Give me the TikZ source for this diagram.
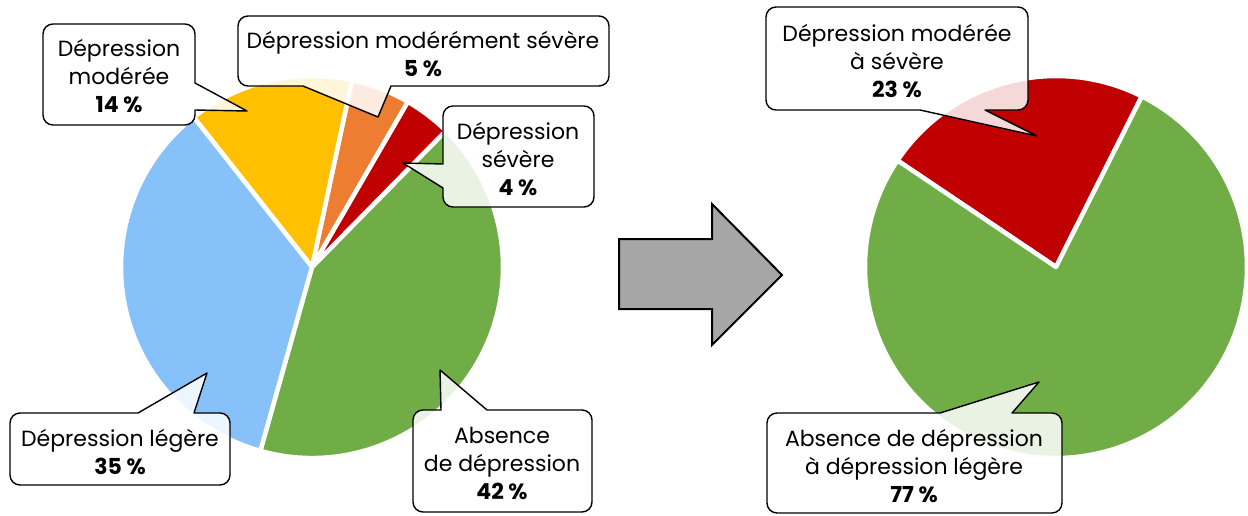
\documentclass[tikz,border=0pt]{standalone}
\usepackage{fontspec}
\setmainfont{Poppins}
\definecolor{pgreen}{HTML}{70AD47}
\definecolor{pred}{HTML}{C00000}
\definecolor{porange}{HTML}{ED7D31}
\definecolor{pyellow}{HTML}{FFC000}
\definecolor{pblue}{HTML}{87C1FA}
\definecolor{arrowgray}{HTML}{A6A6A6}
\newcommand\pieslice[4]{\path[slice, fill=#4] (#1) -- ++({-(#2)}:191) arc[start angle={-(#2)}, end angle={-(#3)}, radius=191] -- cycle;}
\newcommand\mycallout[8]{\path[callout] ({#1+10},#2) #5 -- ({#3-10},#2) arc[start angle=-90,end angle=0,radius=10] #6 -- (#3,{#4-10}) arc[start angle=0,end angle=90,radius=10] #7 -- ({#1+10},#4) arc[start angle=90,end angle=180,radius=10] #8 -- (#1,{#2+10}) arc[start angle=180,end angle=270,radius=10] -- cycle;}
\begin{document}
\begin{tikzpicture}[x=1pt,y=-1pt,
  callout/.style={draw=black, line width=1.4pt, fill=white, fill opacity=0.85, line join=round},
  lbl/.style={align=center, font=\fontsize{22}{28}\selectfont, inner sep=0pt, text=black},
  slice/.style={draw=white, line width=4.5pt, line join=round},
  bigarrow/.style={draw=black, line width=2pt, fill=arrowgray, line join=miter}]
\useasboundingbox (0,0) rectangle (1248,515);
\coordinate (pl) at (312,267);
\coordinate (pr) at (1056,267);
% left pie
\pieslice{pl}{-105.7}{45.5}{pgreen}
\pieslice{pl}{45.5}{59.9}{pred}
\pieslice{pl}{59.9}{77.9}{porange}
\pieslice{pl}{77.9}{128.3}{pyellow}
\pieslice{pl}{128.3}{254.3}{pblue}
% right pie
\pieslice{pr}{63.3}{146.1}{pred}
\pieslice{pr}{146.1}{423.3}{pgreen}
% arrow
\draw[bigarrow] (619,239) -- (712,239) -- (712,204) -- (782,275) -- (712,345) -- (712,309) -- (619,309) -- cycle;
% callouts
\mycallout{43}{24}{195}{125}{}{-- (195,83) -- (247,111) -- (195,110)}{}{}
\mycallout{238}{16}{609}{86}{}{}{-- (391,86) -- (378,117) -- (303,86)}{}
\mycallout{443}{106}{594}{207}{}{}{}{-- (443,188) -- (403,163) -- (443,164)}
\mycallout{10}{413}{230}{485}{-- (138,413) -- (207,373) -- (194,413)}{}{}{}
\mycallout{413}{410}{592}{512}{-- (441,410) -- (440,370) -- (487,410)}{}{}{}
\mycallout{766}{7}{1028}{110}{}{}{-- (985,110) -- (1037,136) -- (920,110)}{}
\mycallout{767}{413}{1062}{513}{-- (940,413) -- (1039,382) -- (1012,413)}{}{}{}
% labels
\node[lbl] (t1) at (119,76) {Dépression\\modérée\\\textbf{14 \%}};
\node[lbl] (t2) at (423,54) {Dépression modérément sévère\\\textbf{5 \%}};
\node[lbl] (t3) at (518,159) {Dépression\\sévère\\\textbf{4 \%}};
\node[lbl] (t4) at (120,452) {Dépression légère\\\textbf{35 \%}};
\node[lbl] (t5) at (502,463) {Absence\\de dépression\\\textbf{42 \%}};
\node[lbl] (t6) at (897,61) {Dépression modérée\\à sévère\\\textbf{23 \%}};
\node[lbl] (t7) at (914,466) {Absence de dépression\\à dépression légère\\\textbf{77 \%}};
\end{tikzpicture}
\end{document}
